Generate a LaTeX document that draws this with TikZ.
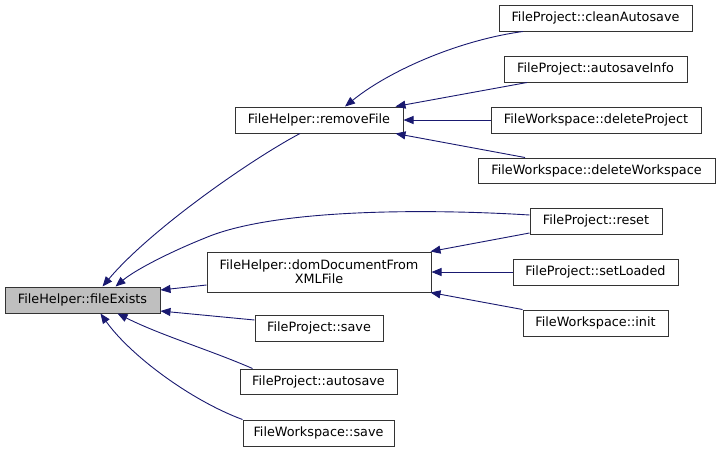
\documentclass[tikz,border=0pt]{standalone}
\usepackage{fontspec}
\setmainfont{DejaVu Sans}
\usetikzlibrary{arrows.meta}
\definecolor{edgecol}{HTML}{191970}
\definecolor{hlfill}{HTML}{BFBFBF}
\tikzset{
  fn/.style={draw=black!80, line width=1pt, fill=white, inner sep=0pt, font=\fontsize{12.8}{15}\selectfont, align=center},
  call/.style={draw=edgecol, line width=0.9pt, -{Triangle[length=10pt,width=8pt]}, fill=none}
}
\begin{document}
\begin{tikzpicture}[x=1pt,y=-1pt]
\useasboundingbox (0,0) rectangle (719,451);
\node[fn, fill=hlfill, minimum width=155pt, minimum height=26pt] (fe) at (82.5,300) {FileHelper::fileExists};
\node[fn, minimum width=168pt, minimum height=26pt] (rf) at (319,120) {FileHelper::removeFile};
\node[fn, minimum width=224pt, minimum height=40pt] (dd) at (319,272) {FileHelper::domDocumentFrom\\[-1pt]XMLFile};
\node[fn, minimum width=193pt, minimum height=26pt] (ca) at (595.5,18) {FileProject::cleanAutosave};
\node[fn, minimum width=183pt, minimum height=26pt] (ai) at (595.5,69) {FileProject::autosaveInfo};
\node[fn, minimum width=210pt, minimum height=26pt] (dp) at (596,120) {FileWorkspace::deleteProject};
\node[fn, minimum width=237pt, minimum height=25pt] (dw) at (596.5,170.5) {FileWorkspace::deleteWorkspace};
\node[fn, minimum width=132pt, minimum height=26pt] (rs) at (596,221) {FileProject::reset};
\node[fn, minimum width=165pt, minimum height=26pt] (sl) at (595.5,272) {FileProject::setLoaded};
\node[fn, minimum width=145pt, minimum height=26pt] (in) at (595.5,323) {FileWorkspace::init};
\node[fn, minimum width=128pt, minimum height=26pt] (ps) at (319,328) {FileProject::save};
\node[fn, minimum width=157pt, minimum height=25pt] (pa) at (318.5,381.5) {FileProject::autosave};
\node[fn, minimum width=151pt, minimum height=26pt] (ws) at (318.5,433) {FileWorkspace::save};

% callers of fileExists
\draw[call] ([xshift=-19pt]rf.south) .. controls (250,160) and (150,230) .. ([xshift=20pt]fe.north);
\draw[call] ([yshift=6pt]rs.west) .. controls (450,210) and (280,206) .. (205,238) .. controls (170,252) and (135,270) .. ([xshift=33pt]fe.north);
\draw[call] ([yshift=-13pt]dd.west) -- ([yshift=10pt]fe.east);
\draw[call] ([yshift=8pt]ps.west) -- ([yshift=-11pt]fe.east);
\draw[call] ([xshift=13pt]pa.north west) .. controls (210,350) and (160,335) .. ([xshift=35pt]fe.south);
\draw[call] (ws.north west) .. controls (190,400) and (130,355) .. ([xshift=18pt]fe.south);
% callers of removeFile
\draw[call] ([xshift=-72.5pt]ca.south) .. controls (460,40) and (390,70) .. ([xshift=26pt]rf.north);
\draw[call] ([xshift=-68.5pt]ai.south) -- ([xshift=-8pt]rf.north east);
\draw[call] (dp.west) -- (rf.east);
\draw[call] ([xshift=-71.5pt]dw.north) -- ([xshift=-8pt]rf.south east);
% callers of domDocumentFromXMLFile
\draw[call] ([yshift=-12pt]rs.west) -- ([xshift=-1pt]dd.north east);
\draw[call] (sl.west) -- (dd.east);
\draw[call] (in.north west) -- ([xshift=-1pt]dd.south east);
\end{tikzpicture}
\end{document}
